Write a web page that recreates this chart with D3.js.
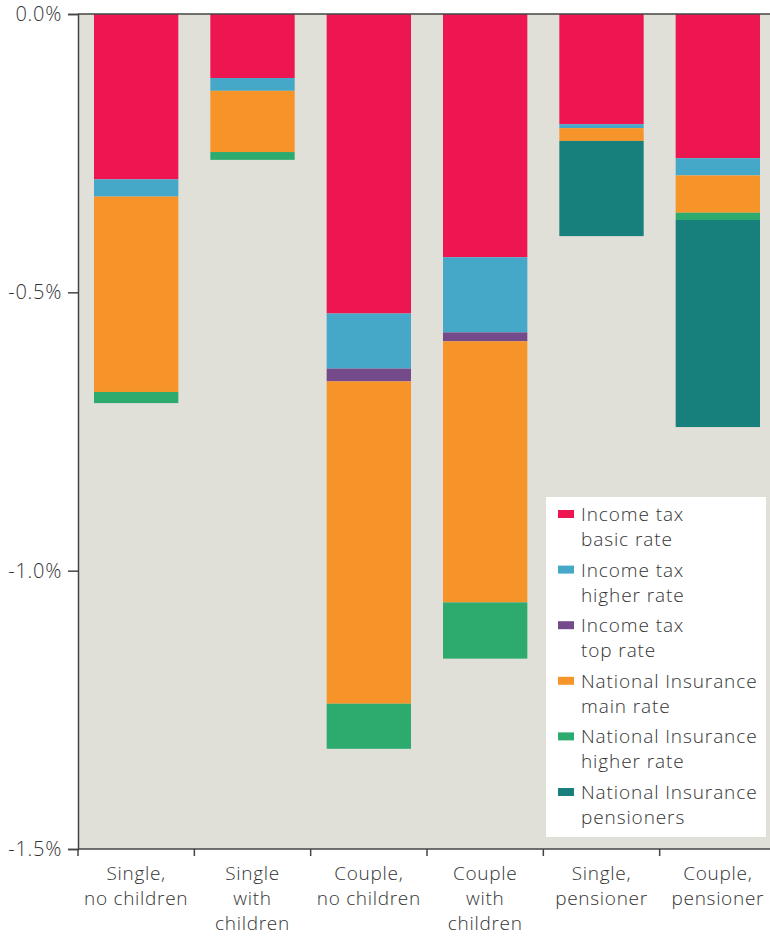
<!DOCTYPE html>
<html>
<head>
<meta charset="utf-8">
<script src="https://cdn.jsdelivr.net/npm/d3@7"></script>
<style>
  body { margin: 0; background: #fff; }
  svg text { font-family: "Open Sans", sans-serif; font-weight: 300; fill: #333; letter-spacing: 0.7px; }
  .legend text { letter-spacing: 0.9px; }
</style>
</head>
<body>
<div id="chart"></div>
<script>
// categories and their label lines
const categories = ["Single, no children", "Single with children", "Couple, no children",
    "Couple with children", "Single, pensioner", "Couple, pensioner"];
const categoryLines = [
    ["Single,", "no children"],
    ["Single", "with", "children"],
    ["Couple,", "no children"],
    ["Couple", "with", "children"],
    ["Single,", "pensioner"],
    ["Couple,", "pensioner"]
];

// series values, % change
const basicRate    = [-0.297, -0.115, -0.538, -0.437, -0.198, -0.259];
const higherRate   = [-0.031, -0.023, -0.099, -0.135, -0.007, -0.031];
const topRate      = [0, 0, -0.023, -0.016, 0, 0];
const niMain       = [-0.351, -0.110, -0.579, -0.469, -0.023, -0.067];
const niHigher     = [-0.020, -0.014, -0.081, -0.101, 0, -0.013];
const niPensioners = [0, 0, 0, 0, -0.171, -0.372];

const seriesNames = ["Income tax basic rate", "Income tax higher rate", "Income tax top rate",
    "National Insurance main rate", "National Insurance higher rate", "National Insurance pensioners"];
const seriesLines = [
    ["Income tax", "basic rate"],
    ["Income tax", "higher rate"],
    ["Income tax", "top rate"],
    ["National Insurance", "main rate"],
    ["National Insurance", "higher rate"],
    ["National Insurance", "pensioners"]
];
const seriesColors = ["#EE1650", "#45A8C8", "#744A8A", "#F79429", "#2DAA6E", "#18807C"];

const yTicks = [0, -0.5, -1.0, -1.5];

const seriesValues = [basicRate, higherRate, topRate, niMain, niHigher, niPensioners];
const table = categories.map((c, i) => {
    const row = { category: c };
    seriesNames.forEach((s, j) => row[s] = seriesValues[j][i]);
    return row;
});

const W = 770, H = 936;
const plotLeft = 78, plotRight = 776, plotTop = 14, plotBottom = 849;
const fontSize = 19;

const svg = d3.select("#chart").append("svg")
    .attr("width", W)
    .attr("height", H);

const x = d3.scaleBand()
    .domain(categories)
    .range([plotLeft, plotRight])
    .paddingInner(0.275)
    .paddingOuter(0.1375);

const y = d3.scaleLinear()
    .domain([-1.5, 0])
    .range([plotBottom, plotTop]);

// plot background
svg.append("rect")
    .attr("x", plotLeft)
    .attr("y", plotTop)
    .attr("width", plotRight - plotLeft)
    .attr("height", plotBottom - plotTop)
    .attr("fill", "#E0DFD8");

const stack = d3.stack()
    .keys(seriesNames)
    .offset(d3.stackOffsetDiverging);

const layers = stack(table);

svg.append("g").selectAll("g")
    .data(layers)
    .join("g")
    .attr("fill", (d, i) => seriesColors[i])
    .selectAll("rect")
    .data(d => d)
    .join("rect")
    .attr("x", d => x(d.data.category))
    .attr("width", x.bandwidth())
    .attr("y", d => y(Math.max(d[0], d[1])))
    .attr("height", d => Math.abs(y(d[0]) - y(d[1])));

// zero line
svg.append("line")
    .attr("x1", plotLeft).attr("x2", plotRight)
    .attr("y1", y(0)).attr("y2", y(0))
    .attr("stroke", "#444")
    .attr("stroke-width", 1.5);

// y axis
const yAxis = svg.append("g")
    .attr("transform", `translate(${plotLeft},0)`)
    .call(d3.axisLeft(y)
        .tickValues(yTicks)
        .tickSize(10)
        .tickPadding(6)
        .tickFormat(d => d.toFixed(1) + "%"));
yAxis.select(".domain").attr("stroke", "#444").attr("stroke-width", 1.5);
yAxis.selectAll(".tick line").attr("stroke", "#444").attr("stroke-width", 1.5);
yAxis.selectAll(".tick text")
    .attr("font-size", 20)
    .attr("fill", "#333")
    .style("font-family", "'Open Sans', sans-serif");

// x axis: baseline and ticks at band edges
const step = x.step();
svg.append("line")
    .attr("x1", plotLeft).attr("x2", plotRight)
    .attr("y1", plotBottom).attr("y2", plotBottom)
    .attr("stroke", "#444")
    .attr("stroke-width", 1.5);

svg.append("g").selectAll("line")
    .data(categories)
    .join("line")
    .attr("x1", d => x(d) - (step - x.bandwidth()) / 2)
    .attr("x2", d => x(d) - (step - x.bandwidth()) / 2)
    .attr("y1", plotBottom)
    .attr("y2", plotBottom + 7)
    .attr("stroke", "#444")
    .attr("stroke-width", 1.5);

svg.append("g").selectAll("text")
    .data(categories)
    .join("text")
    .attr("x", d => x(d) + x.bandwidth() / 2)
    .attr("y", plotBottom + 31)
    .attr("text-anchor", "middle")
    .attr("font-size", fontSize)
    .each(function(d, i) {
        d3.select(this).selectAll("tspan")
            .data(categoryLines[i])
            .join("tspan")
            .attr("x", x(d) + x.bandwidth() / 2)
            .attr("dy", (t, k) => k === 0 ? 0 : 25)
            .text(t => t);
    });

// legend
const legend = svg.append("g").attr("class", "legend");
legend.append("rect")
    .attr("x", 546)
    .attr("y", 497)
    .attr("width", 220)
    .attr("height", 340)
    .attr("fill", "#fff");

const item = legend.selectAll("g.item")
    .data(seriesNames)
    .join("g")
    .attr("class", "item")
    .attr("transform", (d, i) => `translate(558,${521 + i * 55.6})`);

item.append("rect")
    .attr("x", 0)
    .attr("y", -11)
    .attr("width", 16)
    .attr("height", 8)
    .attr("fill", (d, i) => seriesColors[i]);

item.append("text")
    .attr("x", 23)
    .attr("y", 0)
    .attr("font-size", fontSize)
    .each(function(d, i) {
        d3.select(this).selectAll("tspan")
            .data(seriesLines[i])
            .join("tspan")
            .attr("x", 23)
            .attr("dy", (t, k) => k === 0 ? 0 : 25)
            .text(t => t);
    });
</script>
</body>
</html>
